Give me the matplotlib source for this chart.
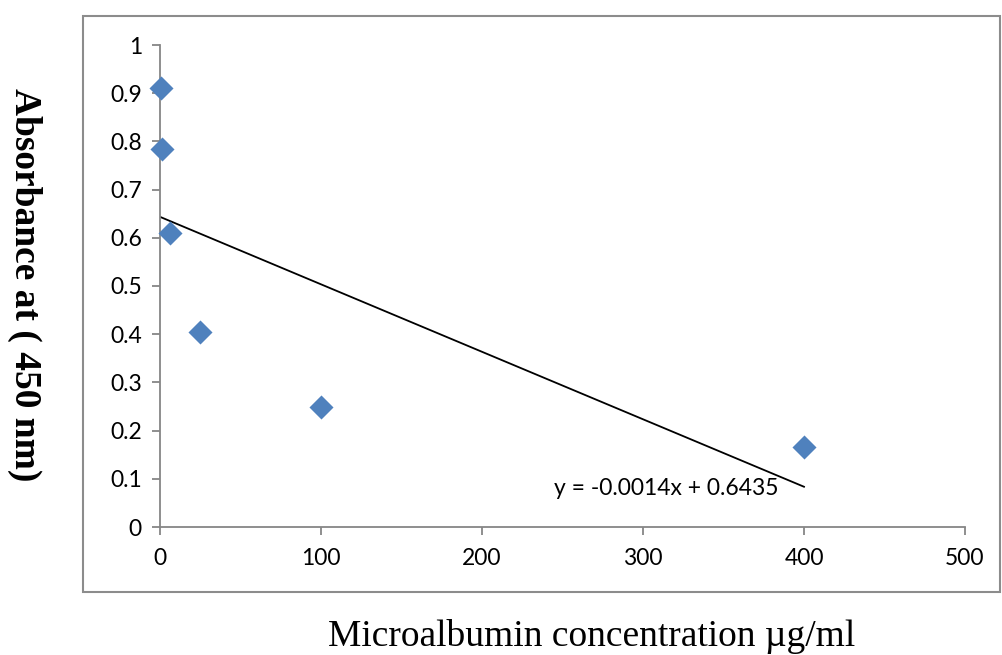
import matplotlib
matplotlib.use("Agg")
import matplotlib.pyplot as plt
from matplotlib.patches import Rectangle
import numpy as np

conc = [0.39, 1.2, 6.25, 25, 100, 400]
absorb = [0.91, 0.785, 0.61, 0.405, 0.25, 0.165]
slope = -0.0014
intercept = 0.6435
fit_x = [0, 400]
x_ticks = [0, 100, 200, 300, 400, 500]
y_ticks = [0, 0.1, 0.2, 0.3, 0.4, 0.5, 0.6, 0.7, 0.8, 0.9, 1]
y_ticklabels = ["0", "0.1", "0.2", "0.3", "0.4", "0.5", "0.6", "0.7", "0.8", "0.9", "1"]

fig = plt.figure(figsize=(10.02, 6.55), dpi=100)
W, H = 1002, 655
ax = fig.add_axes([160 / W, 1 - 527 / H, (965 - 160) / W, (527 - 45) / H])

# outer chart border
fig.patches.append(Rectangle((83 / W, 1 - 592 / H), (1000 - 83) / W, (592 - 16) / H,
                             transform=fig.transFigure, fill=False,
                             edgecolor="#8c8c8c", linewidth=1.5, zorder=0))

ax.scatter(conc, absorb, marker="D", s=150, color="#4F81BD", zorder=3, linewidths=0, clip_on=False)
fx = np.array(fit_x, dtype=float)
ax.plot(fx, slope * fx + intercept, color="black", linewidth=1.3, zorder=2)

ax.set_xlim(0, 500)
ax.set_ylim(0, 1)
ax.set_xticks(x_ticks)
ax.set_yticks(y_ticks)
ax.set_yticklabels(y_ticklabels)
for s in ["top", "right"]:
    ax.spines[s].set_visible(False)
for s in ["left", "bottom"]:
    ax.spines[s].set_color("#868686")
    ax.spines[s].set_linewidth(1.3)
ax.tick_params(axis="both", direction="out", length=6, width=1.3, color="#868686",
               labelsize=16.5, labelcolor="black")
ax.tick_params(axis="y", pad=7)
ax.tick_params(axis="x", pad=9)
for lab in ax.get_xticklabels() + ax.get_yticklabels():
    lab.set_fontfamily("Lato")

ax.text(384, 0.102, "y = -0.0014x + 0.6435", ha="right", va="top",
        fontsize=16.5, fontfamily="Lato")

fig.text(592 / W, 1 - 637 / H, "Microalbumin concentration \u00b5g/ml",
         ha="center", va="center", fontsize=27, fontfamily="Liberation Serif")
fig.text(25 / W, 1 - 285 / H, "Absorbance at ( 450 nm)", rotation=270,
         ha="center", va="center", fontsize=27, fontweight="bold",
         fontfamily="Liberation Serif")

fig.savefig("out.png", dpi=100)
